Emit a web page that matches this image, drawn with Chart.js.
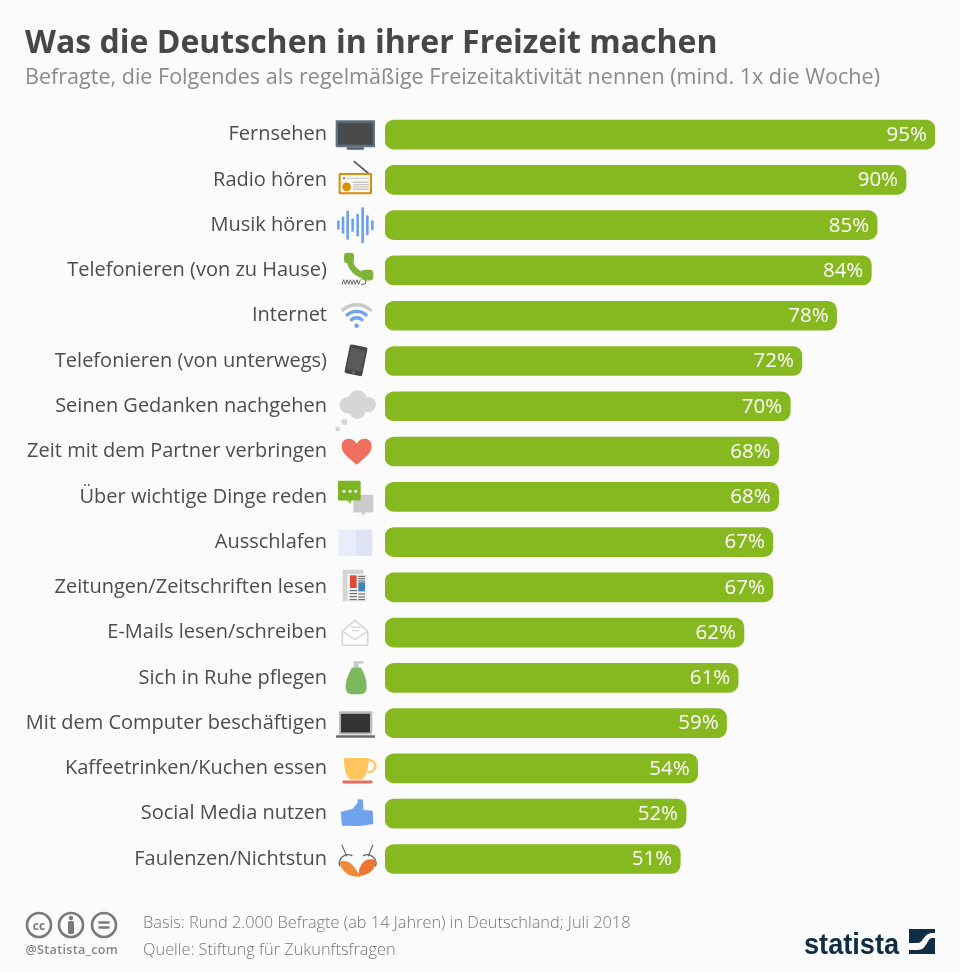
<!DOCTYPE html>
<html lang="de">
<head>
<meta charset="utf-8">
<title>Was die Deutschen in ihrer Freizeit machen</title>
<script src="https://cdn.jsdelivr.net/npm/chart.js@4"></script>
<style>
  html, body { margin: 0; padding: 0; background: #fbfbfc; }
  #page { position: relative; width: 960px; height: 972px; overflow: hidden; font-family: "Open Sans", sans-serif; }
  #page canvas { position: absolute; left: 0; top: 0; }
  .txt { position: absolute; white-space: nowrap; }
  #title { left: 25px; top: 19px; font-size: 32px; font-weight: 700; color: #474747; line-height: 44px; }
  #subtitle { left: 25px; top: 61px; font-size: 21.55px; color: #8a8a8a; line-height: 30px; }
  .note { left: 143px; font-size: 16.35px; font-weight: 300; color: #767676; line-height: 22px; }
  #handle { left: 25.5px; top: 942px; font-size: 12.6px; font-weight: 600; letter-spacing: 0.3px; color: #858585; line-height: 16px; }
  #logo { left: 804px; top: 919.6px; font-family: "Liberation Sans", sans-serif; font-size: 30px; font-weight: 700; color: #0f2e45; line-height: 48px; transform: scaleX(0.905); transform-origin: left; }
</style>
</head>
<body>
<div id="page">
  <canvas id="chart" width="960" height="972"></canvas>
  <div class="txt" id="title">Was die Deutschen in ihrer Freizeit machen</div>
  <div class="txt" id="subtitle">Befragte, die Folgendes als regelmäßige Freizeitaktivität nennen (mind. 1x die Woche)</div>
  <svg style="position:absolute;left:25px;top:910px" width="95" height="30" fill="none" stroke="#7a7a7a" stroke-width="2.6">
    <circle cx="14" cy="15" r="12"/><circle cx="46" cy="15" r="12"/><circle cx="79" cy="15" r="12"/>
    <text x="14" y="19.5" font-family="Open Sans" font-size="12" font-weight="700" fill="#7a7a7a" stroke="none" text-anchor="middle">cc</text>
    <circle cx="46" cy="8" r="2.2" fill="#7a7a7a" stroke="none"/>
    <rect x="43" y="11" width="6" height="13" rx="1.5" fill="#7a7a7a" stroke="none"/>
    <path d="M73.5 12.5h11M73.5 17.5h11"/>
  </svg>
  <div class="txt" id="handle">@Statista_com</div>
  <div class="txt note" style="top:911px">Basis: Rund 2.000 Befragte (ab 14 Jahren) in Deutschland; Juli 2018</div>
  <div class="txt note" style="top:938px">Quelle: Stiftung für Zukunftsfragen</div>
  <div class="txt" id="logo">statista</div>
  <svg style="position:absolute;left:909px;top:929px" width="26" height="25">
    <rect width="26" height="25" fill="#0f2e45"/>
    <path d="M0 14 L9 14 C14 14 15 4 23 4 L26 4 L26 9 L23 9 C18 9 18 21 9 21 L0 21Z" fill="#fbfbfc"/>
  </svg>
</div>

<script>
const categories = [
  "Fernsehen", "Radio hören", "Musik hören", "Telefonieren (von zu Hause)", "Internet",
  "Telefonieren (von unterwegs)", "Seinen Gedanken nachgehen", "Zeit mit dem Partner verbringen",
  "Über wichtige Dinge reden", "Ausschlafen", "Zeitungen/Zeitschriften lesen", "E-Mails lesen/schreiben",
  "Sich in Ruhe pflegen", "Mit dem Computer beschäftigen", "Kaffeetrinken/Kuchen essen",
  "Social Media nutzen", "Faulenzen/Nichtstun"
];
const shares = [95, 90, 85, 84, 78, 72, 70, 68, 68, 67, 67, 62, 61, 59, 54, 52, 51];

const barGreen = "#86b81f";
const labelGrey = "#4d4d4d";

function box(c, color, x0, y0, x1, y1, r) {
  c.fillStyle = color;
  c.beginPath();
  c.roundRect(x0, y0, x1 - x0, y1 - y0, r || 0);
  c.fill();
}
function dot(c, color, x, y, r) {
  c.fillStyle = color;
  c.beginPath();
  c.arc(x, y, r, 0, Math.PI * 2);
  c.fill();
}
function line(c, color, w, pts) {
  c.strokeStyle = color;
  c.lineWidth = w;
  c.lineCap = "round";
  c.beginPath();
  pts.forEach((p, i) => i ? c.lineTo(p[0], p[1]) : c.moveTo(p[0], p[1]));
  c.stroke();
}
function poly(c, color, pts) {
  c.fillStyle = color;
  c.beginPath();
  pts.forEach((p, i) => i ? c.lineTo(p[0], p[1]) : c.moveTo(p[0], p[1]));
  c.closePath();
  c.fill();
}

// icons, drawn in the 3x units of the crops, each with its own row centre
const icons = [
  { row: 73, draw(c) { // tv
    box(c, "#5f7083", 47, 30, 165, 111, 3);
    box(c, "#4a4a4a", 54, 37, 158, 103);
    box(c, "#4d5d6d", 80, 111, 132, 118, 3);
  } },
  { row: 209, draw(c) { // radio
    line(c, "#555", 5, [[103, 154], [146, 190]]);
    box(c, "#d98e0a", 56, 188, 156, 252, 4);
    box(c, "#fdf8ef", 62, 194, 150, 246, 2);
    line(c, "#b9c6d8", 3, [[82, 204], [145, 204]]);
    dot(c, "#555", 72, 204, 3);
    dot(c, "#d98e0a", 80, 230, 13);
    c.save();
    c.setLineDash([4, 3]);
    for (let y = 216; y < 244; y += 7) line(c, "#c4c4c4", 4, [[100, y], [145, y]]);
    c.restore();
  } },
  { row: 345, draw(c) { // sound wave
    const xs = [55, 69, 83, 98, 113, 128, 142, 157];
    const half = [14, 26, 44, 20, 34, 54, 30, 15];
    xs.forEach((x, i) => box(c, "#6ea2ea", x - 4, 345 - half[i], x + 4, 345 + half[i], 3));
  } },
  { row: 480, draw(c) { // phone with cord
    c.strokeStyle = "#7fb23a";
    c.lineWidth = 18;
    c.lineCap = "round";
    c.beginPath();
    c.moveTo(86, 438);
    c.quadraticCurveTo(92, 492, 146, 498);
    c.stroke();
    box(c, "#7fb23a", 72, 427, 102, 458, 10);
    box(c, "#7fb23a", 124, 478, 160, 510, 10);
    const zig = [];
    for (let x = 66; x < 124; x += 5) zig.push([x, zig.length % 2 ? 508 : 522]);
    line(c, "#666", 3, zig);
    line(c, "#666", 3, [[124, 522], [136, 520], [138, 510]]);
  } },
  { row: 615, draw(c) { // wifi
    c.lineCap = "round";
    [[63, "#c9c9c9"], [43, "#6ea2ea"], [24, "#6ea2ea"]].forEach(a => {
      c.strokeStyle = a[1];
      c.lineWidth = 10;
      c.beginPath();
      c.arc(110, 645, a[0], Math.PI * 1.27, Math.PI * 1.73);
      c.stroke();
    });
    dot(c, "#6ea2ea", 110, 645, 7);
  } },
  { row: 750, draw(c) { // mobile phone
    c.save();
    c.translate(108, 748);
    c.rotate(0.2);
    box(c, "#454545", -27, -44, 27, 44, 6);
    box(c, "#5a5a5a", -22, -34, 22, 30);
    dot(c, "#777", 0, 37, 4);
    c.restore();
  } },
  { row: 75, draw(c) { // thought cloud
    const g = "#d6d6d6";
    dot(c, g, 84, 72, 25); dot(c, g, 113, 55, 28); dot(c, g, 145, 70, 23); dot(c, g, 112, 88, 25);
    dot(c, g, 73, 122, 9); dot(c, g, 53, 143, 7);
  } },
  { row: 210, draw(c) { // heart
    c.fillStyle = "#f0705f";
    c.beginPath();
    c.moveTo(110, 250);
    c.bezierCurveTo(85, 228, 65, 215, 65, 195);
    c.bezierCurveTo(65, 165, 100, 165, 110, 187);
    c.bezierCurveTo(120, 165, 155, 165, 155, 195);
    c.bezierCurveTo(155, 215, 135, 228, 110, 250);
    c.fill();
  } },
  { row: 348, draw(c) { // speech bubbles
    box(c, "#cbcbcb", 100, 342, 160, 395, 4);
    poly(c, "#cbcbcb", [[126, 394], [138, 394], [128, 405]]);
    box(c, "#7cb522", 54, 300, 122, 359, 4);
    poly(c, "#7cb522", [[80, 358], [94, 358], [92, 368]]);
    [72, 90, 107].forEach(x => dot(c, "#fff", x, 331, 4.5));
  } },
  { row: 483, draw(c) { // pillow
    box(c, "#e9edfa", 55, 445, 106, 525, 4);
    box(c, "#dfe4f4", 106, 445, 157, 525, 4);
  } },
  { row: 618, draw(c) { // newspaper
    box(c, "#d4d4d4", 68, 565, 130, 660, 3);
    box(c, "#f2f2f2", 82, 578, 142, 662);
    box(c, "#e4463a", 90, 582, 110, 620);
    box(c, "#3c83b8", 115, 603, 135, 630);
    [585, 592, 599].forEach(y => line(c, "#555", 3, [[116, y], [134, y]]));
    [628, 637, 646, 655].forEach(y => line(c, "#555", 3, [[90, y], [110, y]]));
    [638, 647, 655].forEach(y => line(c, "#555", 3, [[116, y], [134, y]]));
  } },
  { row: 64, draw(c) { // open mail
    c.lineJoin = "round";
    c.fillStyle = "#fff";
    c.strokeStyle = "#d6d6d6";
    c.lineWidth = 5;
    c.beginPath();
    c.moveTo(67, 102); c.lineTo(67, 60); c.lineTo(105, 27); c.lineTo(143, 60); c.lineTo(143, 102);
    c.closePath();
    c.fill(); c.stroke();
    line(c, "#d6d6d6", 4, [[67, 60], [105, 85], [143, 60]]);
    line(c, "#d6d6d6", 4, [[94, 48], [120, 48]]);
    line(c, "#d6d6d6", 4, [[98, 58], [114, 58]]);
  } },
  { row: 201, draw(c) { // soap dispenser
    box(c, "#c8c8c8", 100, 151, 131, 158, 2);
    box(c, "#c8c8c8", 102, 155, 116, 172);
    c.fillStyle = "#7db85f";
    c.beginPath();
    c.moveTo(96, 170); c.lineTo(122, 170);
    c.bezierCurveTo(134, 190, 140, 205, 140, 230);
    c.quadraticCurveTo(140, 250, 120, 250);
    c.lineTo(96, 250);
    c.quadraticCurveTo(77, 250, 77, 230);
    c.bezierCurveTo(77, 205, 86, 190, 96, 170);
    c.fill();
  } },
  { row: 336, draw(c) { // laptop
    box(c, "#bcbcbc", 57, 300, 157, 370, 3);
    box(c, "#333", 63, 308, 150, 364);
    box(c, "#6a6a6a", 48, 372, 165, 380, 2);
  } },
  { row: 472, draw(c) { // coffee cup
    c.strokeStyle = "#ffc55f";
    c.lineWidth = 7;
    c.beginPath();
    c.arc(148, 465, 18, -Math.PI * 0.6, Math.PI * 0.6);
    c.stroke();
    c.fillStyle = "#ffc55f";
    c.beginPath();
    c.moveTo(72, 441); c.lineTo(146, 441);
    c.bezierCurveTo(146, 480, 135, 505, 122, 505);
    c.lineTo(96, 505);
    c.bezierCurveTo(80, 505, 72, 480, 72, 441);
    c.fill();
    box(c, "#ef6a5a", 67, 508, 158, 517, 4);
  } },
  { row: 609, draw(c) { // thumbs up
    poly(c, "#6fa3ee", [[62, 604], [98, 594], [112, 578], [114, 565], [129, 567], [130, 598], [158, 600], [160, 640], [120, 646], [66, 645]]);
  } },
  { row: 744, draw(c) { // hammock
    line(c, "#666", 3.5, [[66, 703], [80, 735]]);
    line(c, "#666", 3.5, [[158, 703], [145, 735]]);
    c.strokeStyle = "#666";
    c.lineWidth = 4;
    c.beginPath();
    c.arc(84, 757, 26, Math.PI * 0.9, Math.PI * 1.65);
    c.stroke();
    c.beginPath();
    c.arc(142, 757, 26, Math.PI * 1.35, Math.PI * 0.1);
    c.stroke();
    c.fillStyle = "#f08a3a";
    c.beginPath();
    c.moveTo(58, 752); c.quadraticCurveTo(85, 745, 100, 765);
    c.quadraticCurveTo(115, 785, 122, 797);
    c.quadraticCurveTo(70, 800, 58, 752);
    c.fill();
    c.fillStyle = "#ee7430";
    c.beginPath();
    c.moveTo(168, 748); c.quadraticCurveTo(140, 738, 125, 760);
    c.quadraticCurveTo(112, 780, 118, 795);
    c.quadraticCurveTo(165, 790, 168, 748);
    c.fill();
  } }
];

const iconPlugin = {
  id: "rowIcons",
  afterDraw(chart) {
    const c = chart.ctx;
    const yScale = chart.scales.y;
    icons.forEach((icon, i) => {
      c.save();
      c.translate(356, yScale.getPixelForTick(i));
      c.scale(1 / 3, 1 / 3);
      c.translate(-108, -icon.row);
      icon.draw(c);
      c.restore();
    });
  }
};

const valueLabels = {
  id: "valueLabels",
  afterDatasetsDraw(chart) {
    const c = chart.ctx;
    c.save();
    c.fillStyle = "#fff";
    c.font = '20.5px "Open Sans"';
    c.textAlign = "right";
    c.textBaseline = "middle";
    chart.getDatasetMeta(0).data.forEach((bar, i) => {
      c.fillText(shares[i] + "%", bar.x - 8, bar.y + 0.5);
    });
    c.restore();
  }
};

new Chart(document.getElementById("chart"), {
  type: "bar",
  data: {
    labels: categories,
    datasets: [{
      data: shares,
      backgroundColor: barGreen,
      barThickness: 29,
      borderRadius: 9,
      borderSkipped: false
    }]
  },
  options: {
    indexAxis: "y",
    responsive: false,
    animation: false,
    layout: { padding: { top: 112, bottom: 90.4, left: 0, right: 25 } },
    plugins: { legend: { display: false }, tooltip: { enabled: false } },
    scales: {
      x: { display: false, min: 0, max: 95 },
      y: {
        grid: { display: false },
        border: { display: false },
        afterFit(scale) { scale.width = 385; },
        ticks: {
          autoSkip: false,
          padding: 50,
          color: labelGrey,
          font: { family: '"Open Sans"', size: 20 }
        }
      }
    }
  },
  plugins: [valueLabels, iconPlugin]
});
</script>
</body>
</html>
